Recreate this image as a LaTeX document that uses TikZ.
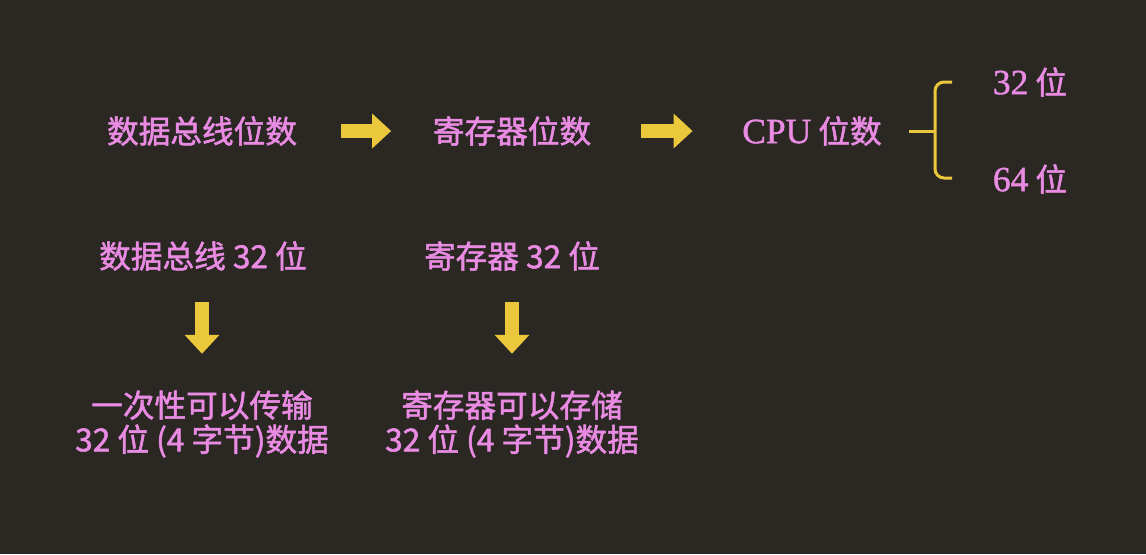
\documentclass[tikz,border=0pt]{standalone}
\usepackage{fontspec}
\setmainfont[Scale=1.12, FakeBold=1.2]{Liberation Serif}
\newfontfamily\cjk[FakeBold=1.6]{Noto Sans CJK SC}
\usetikzlibrary{arrows.meta}
\definecolor{bg}{HTML}{2B2723}
\definecolor{pinktext}{HTML}{E98BE3}
\definecolor{arrowyellow}{HTML}{EAC73B}

\begin{document}
\begin{tikzpicture}[x=0.01cm, y=-0.01cm,
    txt/.style={text=pinktext, inner sep=0pt, align=center,
      font=\cjk\fontsize{9pt}{9.7pt}\selectfont},
    fat/.style={arrowyellow, line width=4pt, -{Triangle[width=9.6pt, length=5.4pt]}},
    bracepen/.style={arrowyellow, line width=0.85pt}]
  \fill[bg] (0, 0) rectangle (1146, 554);
  \node[txt] (busbits) at (202, 131) {数据总线位数};
  \node[txt] (regbits) at (512, 131) {寄存器位数};
  \node[txt] (cpubits) at (812, 131) {{\rmfamily CPU} 位数};
  \node[txt] (bits32) at (1030, 82) {{\rmfamily 32} 位};
  \node[txt] (bits64) at (1030, 179) {{\rmfamily 64} 位};
  \draw[fat, shorten <=0.43cm, shorten >=0.41cm] (busbits) -- (regbits);
  \draw[fat, shorten <=0.49cm, shorten >=0.49cm] (regbits) -- (cpubits);
  \draw[bracepen, rounded corners=0.09cm] (952, 82) -- (935, 82) -- (935, 178) -- (952, 178);
  \draw[bracepen] ([xshift=0.27cm]cpubits.east) -- (935, 131);
  \node[txt] (bus32) at (203, 256) {数据总线 32 位};
  \node[txt] (reg32) at (512, 256) {寄存器 32 位};
  \node[txt] (busmove) at (202, 424) {一次性可以传输\\32 位 (4 字节)数据};
  \node[txt] (regstore) at (512, 424) {寄存器可以存储\\32 位 (4 字节)数据};
  \draw[fat, shorten <=0.31cm, shorten >=0.36cm] (bus32.south -| busmove) -- (busmove.north);
  \draw[fat, shorten <=0.31cm, shorten >=0.36cm] (reg32.south -| regstore) -- (regstore.north);
\end{tikzpicture}
\end{document}
